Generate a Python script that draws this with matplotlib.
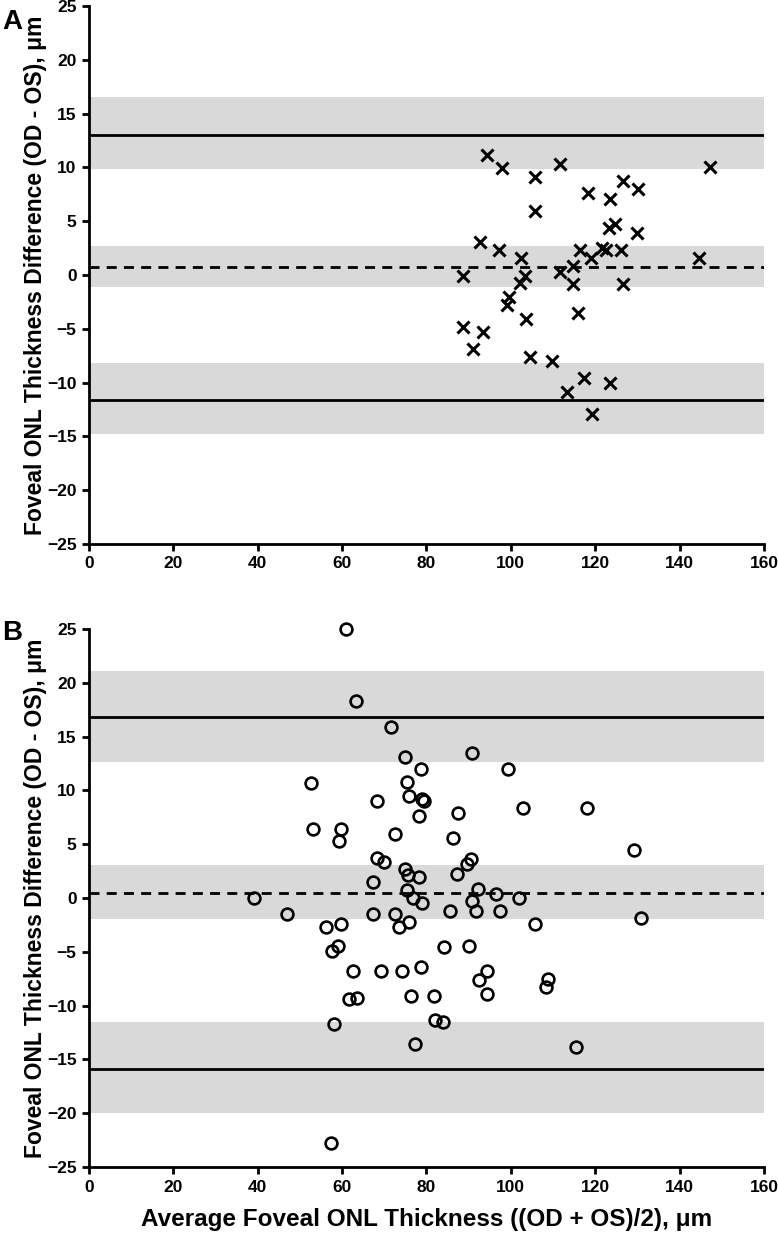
import numpy as np
import matplotlib
matplotlib.use('Agg')
import matplotlib.pyplot as plt

plt.rcParams['font.family'] = ['Liberation Sans', 'DejaVu Sans']
plt.rcParams['font.weight'] = 'bold'

# Panel A data (average vs difference)
avgA = [94.3, 97.8, 105.8, 111.6, 147.2, 126.6, 130.2, 118.4, 123.5, 105.8,
        124.7, 123.2, 129.8, 92.7, 97.2, 102.3, 116.5, 121.5, 122.5, 126.0,
        119.0, 144.7, 114.8, 111.6, 88.7, 103.3, 102.2, 114.8, 126.6, 99.6,
        99.0, 103.6, 115.8, 88.7, 93.3, 91.1, 104.5, 109.7, 117.3, 123.5,
        113.2, 119.3]
diffA = [11.15, 9.98, 9.1, 10.3, 10.0, 8.77, 8.0, 7.6, 7.06, 5.92,
         4.74, 4.37, 3.93, 3.1, 2.3, 1.6, 2.3, 2.5, 2.3, 2.3,
         1.55, 1.58, 0.83, 0.25, -0.06, -0.06, -0.78, -0.8, -0.8, -2.0,
         -2.8, -4.1, -3.56, -4.8, -5.27, -6.88, -7.6, -8.0, -9.6, -10.0,
         -10.9, -12.9]

# Panel B data
avgB = [60.9, 63.2, 71.5, 90.7, 75.0, 78.6, 99.4, 52.6, 75.3, 75.9,
        79.0, 79.4, 68.3, 102.9, 118.0, 87.5, 78.2, 53.2, 59.7, 59.3,
        72.5, 86.2, 68.3, 70.0, 90.5, 89.5, 74.8, 75.5, 78.3, 67.4,
        87.2,
        75.3, 92.1, 96.5, 101.9, 76.9, 79.0, 90.7, 91.7, 85.6, 97.4,
        67.4, 72.5, 56.2, 59.7, 73.4, 75.8, 105.8, 59.1, 57.7, 84.2,
        90.1, 62.5, 69.2, 74.1, 78.6, 94.3, 92.4, 108.7, 108.3, 61.6,
        63.6, 76.3, 81.7, 94.3, 58.1, 82.0, 83.8, 77.3, 115.4,
        39.2, 46.9, 129.2, 130.8, 57.4]
diffB = [24.97, 18.3, 15.9, 13.5, 13.1, 12.0, 12.0, 10.65, 10.75, 9.5,
         9.2, 9.0, 9.0, 8.4, 8.4, 7.9, 7.6, 6.4, 6.4, 5.27,
         6.0, 5.6, 3.75, 3.35, 3.65, 3.2, 2.67, 2.1, 1.98, 1.5,
         2.2,
         0.74, 0.84, 0.37, -0.03, -0.03, -0.43, -0.3, -1.18, -1.18, -1.18,
         -1.52, -1.52, -2.66, -2.4, -2.66, -2.26, -2.4, -4.5, -4.9, -4.55,
         -4.43, -6.8, -6.8, -6.8, -6.45, -6.8, -7.6, -7.56, -8.3, -9.4,
         -9.3, -9.1, -9.1, -8.96, -11.7, -11.3, -11.5, -13.6, -13.8,
         -0.03, -1.5, 4.5, -1.9, -22.8]

# Bias and limits of agreement with their confidence bands
meanA, loaA, hiaA = 0.74, -11.6, 13.0
bandsA = [(9.9, 16.5), (-1.1, 2.7), (-14.8, -8.2)]
meanB, loaB, hiaB = 0.46, -15.9, 16.8
bandsB = [(12.6, 21.1), (-1.95, 3.07), (-20.0, -11.5)]

ylab = 'Foveal ONL Thickness Difference (OD - OS), \u03bcm'
xlab = 'Average Foveal ONL Thickness ((OD + OS)/2), \u03bcm'


def draw_panel(ax, x, y, marker, mean, lo, hi, bands):
    for b0, b1 in bands:
        ax.axhspan(b0, b1, color='#d9d9d9', lw=0, zorder=0)
    ax.axhline(hi, color='black', lw=2, zorder=1)
    ax.axhline(lo, color='black', lw=2, zorder=1)
    ax.axhline(mean, color='black', lw=2, dashes=(3.6, 2.6), zorder=1)
    if marker == 'x':
        ax.plot(x, y, 'x', color='black', ms=8.5, mew=2.2, zorder=3, clip_on=False)
    else:
        ax.plot(x, y, 'o', mfc='none', mec='black', ms=8.5, mew=1.9, zorder=3, clip_on=False)
    ax.set_xlim(0, 160)
    ax.set_ylim(-25, 25)
    ax.set_xticks(np.arange(0, 161, 20))
    ax.set_yticks(np.arange(-25, 26, 5))
    for s in ['top', 'right']:
        ax.spines[s].set_visible(False)
    for s in ['left', 'bottom']:
        ax.spines[s].set_linewidth(2)
    ax.tick_params(width=2, length=5, labelsize=12.5, pad=4)
    for lbl in ax.get_xticklabels() + ax.get_yticklabels():
        lbl.set_fontweight('bold')
    ax.set_ylabel(ylab, fontsize=16.5, fontweight='bold')
    ax.yaxis.set_label_coords(-0.062, 0.5)


fig = plt.figure(figsize=(7.78, 12.33), dpi=100)
axA = fig.add_axes([0.1144, 0.5588, 0.8676, 0.4363])
axB = fig.add_axes([0.1144, 0.0535, 0.8676, 0.4363])

draw_panel(axA, avgA, diffA, 'x', meanA, loaA, hiaA, bandsA)
draw_panel(axB, avgB, diffB, 'o', meanB, loaB, hiaB, bandsB)
axB.set_xlabel(xlab, fontsize=17.5, fontweight='bold')
axB.xaxis.set_label_coords(0.5, -0.077)

fig.text(0.003, 0.993, 'A', fontsize=20, fontweight='bold', va='top')
fig.text(0.003, 0.497, 'B', fontsize=20, fontweight='bold', va='top')

fig.savefig('out.png', dpi=100)
